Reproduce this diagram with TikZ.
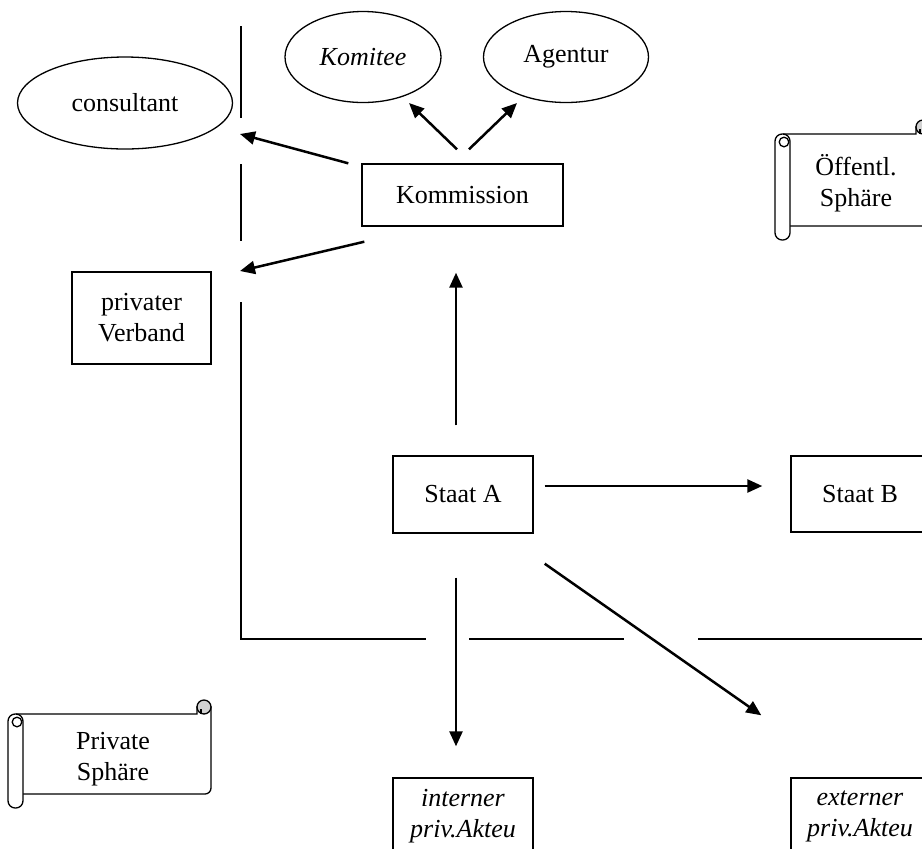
\documentclass[tikz,border=0pt]{standalone}
\usepackage{fontspec}
\setmainfont{Liberation Serif}
\usepackage{tikz}
\usetikzlibrary{arrows.meta,shapes.geometric}

% scroll banner: left, top, right, bottom (in picture units)
\newcommand{\scrollbanner}[4]{%
  \draw[line width=0.65pt,fill=white] (#1+8,#2) -- (#3-14,#2) -- (#3-14,#2-7)
    -- (#3,#2-7) [rounded corners=3pt] -- (#3,#4) -- (#1+15,#4);
  \draw[line width=0.65pt,fill=gray!35] (#3-7,#2-7) circle (3.5pt);
  \draw[line width=0.65pt] (#3-10,#2-5) -- (#3-10,#2);
  \draw[line width=0.65pt,fill=white,rounded corners=3.6pt] (#1,#2) rectangle (#1+15,#4+14);
  \draw[line width=0.65pt] (#1+9,#2+8) circle (2.4pt);
}

\begin{document}
\begin{tikzpicture}[x=0.5pt,y=-0.5pt,
    every node/.style={font=\fontsize{13}{15.5}\selectfont,align=center},
    box/.style={draw,line width=0.7pt,inner sep=0pt},
    oval/.style={draw,ellipse,line width=0.65pt,inner sep=0pt},
    arr/.style={line width=1.25pt,-{Triangle[length=7.5pt,width=6.5pt]}},
    border/.style={line width=0.65pt}]
  \clip (0,0) rectangle (922,848);

  % spheres
  \draw[border] (241,26) -- (241,118);
  \draw[border] (241,164) -- (241,241);
  \draw[border] (241,302) -- (241,639) -- (426,639);
  \draw[border] (469,639) -- (624,639);
  \draw[border] (698,639) -- (930,639);

  \scrollbanner{775}{134}{930}{226}
  \scrollbanner{8}{714}{211}{794}
  \node (oeffsph) at (856,183) {Öffentl.\\Sphäre};
  \node (privsph) at (113,759) {Private\\Sphäre};

  % actors
  \node[oval,minimum width=107.5pt,minimum height=46pt] (consultant) at (125,103) {consultant};
  \node[oval,minimum width=78pt,minimum height=45.5pt] (komitee) at (363,57) {\textit{Komitee}};
  \node[oval,minimum width=82.5pt,minimum height=45.5pt] (agentur) at (566,57) {Agentur};
  \node[box,minimum width=100.5pt,minimum height=31pt] (komm) at (462.5,195) {Kommission};
  \node[box,minimum width=69.5pt,minimum height=46pt] (verband) at (141.5,318) {privater\\Verband};
  \node[box,minimum width=70pt,minimum height=38.5pt] (staatA) at (463,494.5) {Staat A};
  \node[box,minimum width=69pt,minimum height=38pt] (staatB) at (860,494) {Staat B};
  \node[box,minimum width=70pt,minimum height=38pt] (intern) at (463,816) {\textit{interner}\\\textit{priv.Akteu}};
  \node[box,minimum width=69pt,minimum height=38pt] (extern) at (860,816) {\textit{externer}\\\textit{priv.Akteu}};

  \coordinate (tocons) at (240,134);
  \coordinate (toverb) at (240,271);

  \draw[arr] ([xshift=-6.5pt]komm.north west) -- (tocons);
  \draw[arr] ([shift={(1.5pt,-7.5pt)}]komm.south west) -- (toverb);
  \draw[arr] ([shift={(-2.75pt,7pt)}]komm.north) -- ([shift={(23pt,-23pt)}]komitee.center);
  \draw[arr] ([shift={(3.25pt,7pt)}]komm.north) -- ([shift={(-24.5pt,-23pt)}]agentur.center);
  \draw[arr] ([shift={(-3.5pt,15pt)}]staatA.north) -- ([shift={(-3.25pt,-23pt)}]komm.south);
  \draw[arr] ([shift={(5.5pt,4.25pt)}]staatA.east) -- ([shift={(-14pt,4pt)}]staatB.west);
  \draw[arr] ([shift={(5.5pt,-15pt)}]staatA.south east) -- ([shift={(-14.5pt,31pt)}]extern.north west);
  \draw[arr] ([shift={(-3.5pt,-22pt)}]staatA.south) -- ([shift={(-3.5pt,15.5pt)}]intern.north);
\end{tikzpicture}
\end{document}
